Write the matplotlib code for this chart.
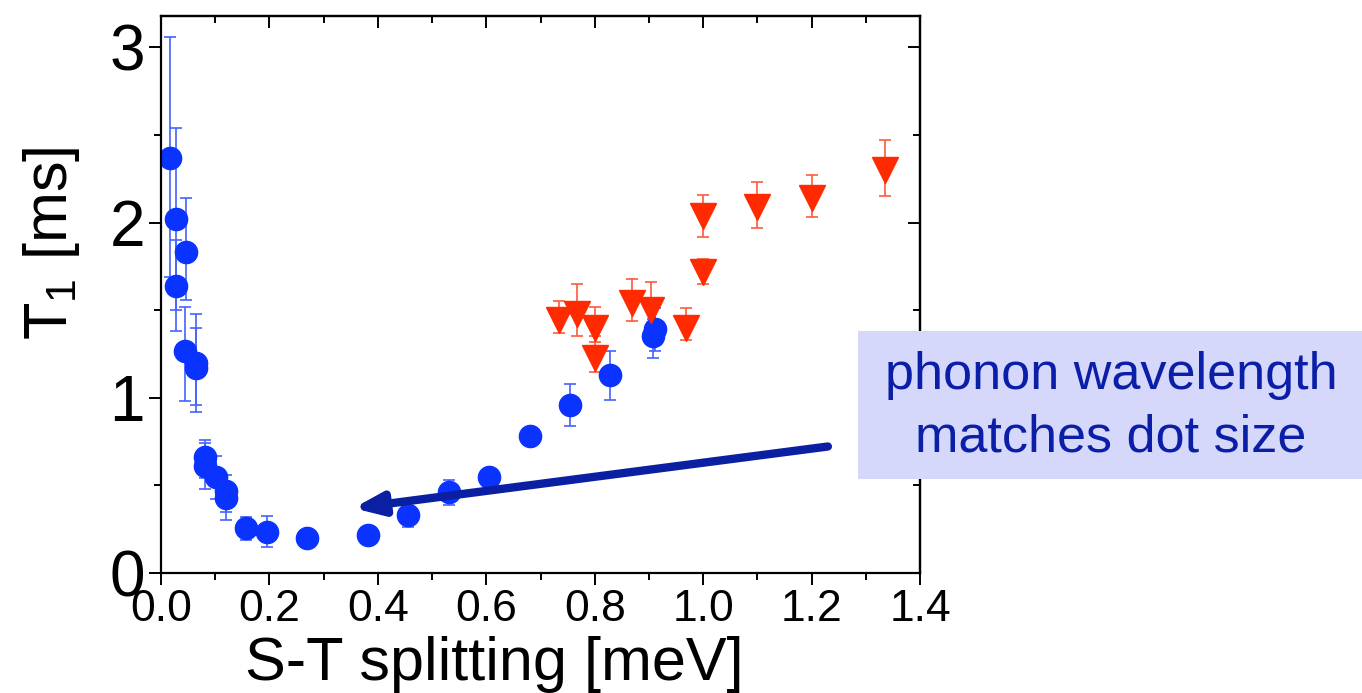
#!/usr/bin/env python3
"""
T1 versus singlet-triplet splitting, with the phonon wavelength annotation.
"""

import matplotlib
matplotlib.use('Agg')
import matplotlib.pyplot as plt
from matplotlib.patches import Rectangle
from matplotlib.ticker import MultipleLocator

plt.rcParams['font.family'] = ['Liberation Sans', 'DejaVu Sans']
plt.rcParams['mathtext.fontset'] = 'custom'
plt.rcParams['mathtext.rm'] = 'Liberation Sans'

# Blue circles: splitting [meV], T1 [ms], lower / upper end of the error bar
blue_x = [0.017, 0.027, 0.046, 0.027, 0.044, 0.064, 0.064, 0.081, 0.081,
          0.101, 0.120, 0.120, 0.157, 0.195, 0.269, 0.381, 0.456, 0.531,
          0.605, 0.680, 0.754, 0.828, 0.907, 0.912]
blue_y = [2.37, 2.02, 1.83, 1.64, 1.27, 1.20, 1.17, 0.66, 0.61,
          0.55, 0.47, 0.43, 0.255, 0.236, 0.20, 0.215, 0.33, 0.46,
          0.55, 0.78, 0.96, 1.13, 1.35, 1.39]
blue_lo = [1.69, 1.38, 1.56, 1.50, 0.98, 0.92, 0.96, 0.54, 0.48,
           0.42, 0.30, 0.35, 0.19, 0.147, 0.18, 0.20, 0.26, 0.39,
           0.52, 0.75, 0.84, 0.99, 1.23, 1.27]
blue_hi = [3.06, 2.54, 2.14, 1.90, 1.52, 1.48, 1.40, 0.76, 0.74,
           0.67, 0.56, 0.52, 0.32, 0.325, 0.22, 0.23, 0.38, 0.53,
           0.58, 0.81, 1.08, 1.27, 1.45, 1.51]

# Red triangles
red_x = [0.734, 0.768, 0.800, 0.800, 0.868, 0.903, 0.968, 1.000, 1.000,
         1.100, 1.200, 1.335]
red_y = [1.445, 1.48, 1.40, 1.23, 1.54, 1.50, 1.40, 1.72, 2.04,
         2.09, 2.14, 2.30]
red_lo = [1.37, 1.35, 1.32, 1.15, 1.44, 1.38, 1.33, 1.65, 1.92,
          1.97, 2.03, 2.15]
red_hi = [1.55, 1.65, 1.52, 1.35, 1.68, 1.66, 1.51, 1.79, 2.16,
          2.23, 2.27, 2.47]

fig = plt.figure(figsize=(13.62, 6.93), dpi=100)
ax = fig.add_axes([0.1182, 0.1732, 0.5573, 0.8038])

blue_err = [[y - lo for y, lo in zip(blue_y, blue_lo)],
            [hi - y for y, hi in zip(blue_y, blue_hi)]]
ax.errorbar(blue_x, blue_y, yerr=blue_err, fmt='o', ms=16,
            color='#0A33FF', mec='#0A33FF', ecolor='#4462FF',
            elinewidth=1.2, capsize=4.5, capthick=1.2)

red_err = [[y - lo for y, lo in zip(red_y, red_lo)],
           [hi - y for y, hi in zip(red_y, red_hi)]]
ax.errorbar(red_x, red_y, yerr=red_err, fmt='v', ms=19,
            color='#FF2A00', mec='#FF2A00', ecolor='#FF5A3A',
            elinewidth=1.2, capsize=4.5, capthick=1.2)

ax.set_xlim(0, 1.4)
ax.set_ylim(0, 3.18)
ax.xaxis.set_major_locator(MultipleLocator(0.2))
ax.xaxis.set_minor_locator(MultipleLocator(0.1))
ax.yaxis.set_major_locator(MultipleLocator(1))
ax.yaxis.set_minor_locator(MultipleLocator(0.5))
ax.xaxis.set_major_formatter(plt.FormatStrFormatter('%.1f'))

for s in ax.spines.values():
    s.set_linewidth(1.6)

ax.tick_params(which='major', direction='out', length=8.6, width=1.4, pad=3)
ax.tick_params(which='minor', direction='out', length=5, width=1.4)
ax.tick_params(axis='x', labelsize=32, pad=3)
ax.tick_params(axis='y', labelsize=46, pad=3)

# inward ticks on the top and right edges
top = ax.secondary_xaxis('top')
top.xaxis.set_major_locator(MultipleLocator(0.2))
top.xaxis.set_minor_locator(MultipleLocator(0.1))
top.tick_params(which='major', direction='in', length=8.6, width=1.4,
                labeltop=False)
top.tick_params(which='minor', direction='in', length=5, width=1.4)
top.spines['top'].set_linewidth(1.6)

right = ax.secondary_yaxis('right')
right.yaxis.set_major_locator(MultipleLocator(1))
right.yaxis.set_minor_locator(MultipleLocator(0.5))
right.tick_params(which='major', direction='in', length=8.6, width=1.4,
                  labelright=False)
right.tick_params(which='minor', direction='in', length=5, width=1.4)
right.spines['right'].set_linewidth(1.6)

# axis labels
fig.text(0.363, 0.019, 'S-T splitting [meV]', fontsize=44,
         ha='center', va='baseline')
fig.text(0.049, 0.649, r'T$_\mathregular{1}$ [ms]', fontsize=44,
         rotation=90, rotation_mode='anchor', ha='center', va='baseline')

# arrow towards the minimum
ax.annotate('', xy=(0.355, 0.37), xytext=(1.230, 0.722),
            arrowprops=dict(arrowstyle='-|>,head_length=1.4,head_width=0.55',
                            mutation_scale=12, lw=6, color='#0B1FA3',
                            shrinkA=0, shrinkB=0))

# label box
fig.patches.append(Rectangle((858 / 1362, 1 - 479 / 693), 504 / 1362,
                             148 / 693, transform=fig.transFigure,
                             facecolor='#D5D8FB', edgecolor='none',
                             zorder=5))
fig.text(1111 / 1362, 1 - 407 / 693, 'phonon wavelength\nmatches dot size',
         fontsize=37.5, color='#0A1EA8', ha='center', va='center',
         linespacing=1.35, zorder=6)

fig.savefig('out.png', dpi=100, facecolor='white')
